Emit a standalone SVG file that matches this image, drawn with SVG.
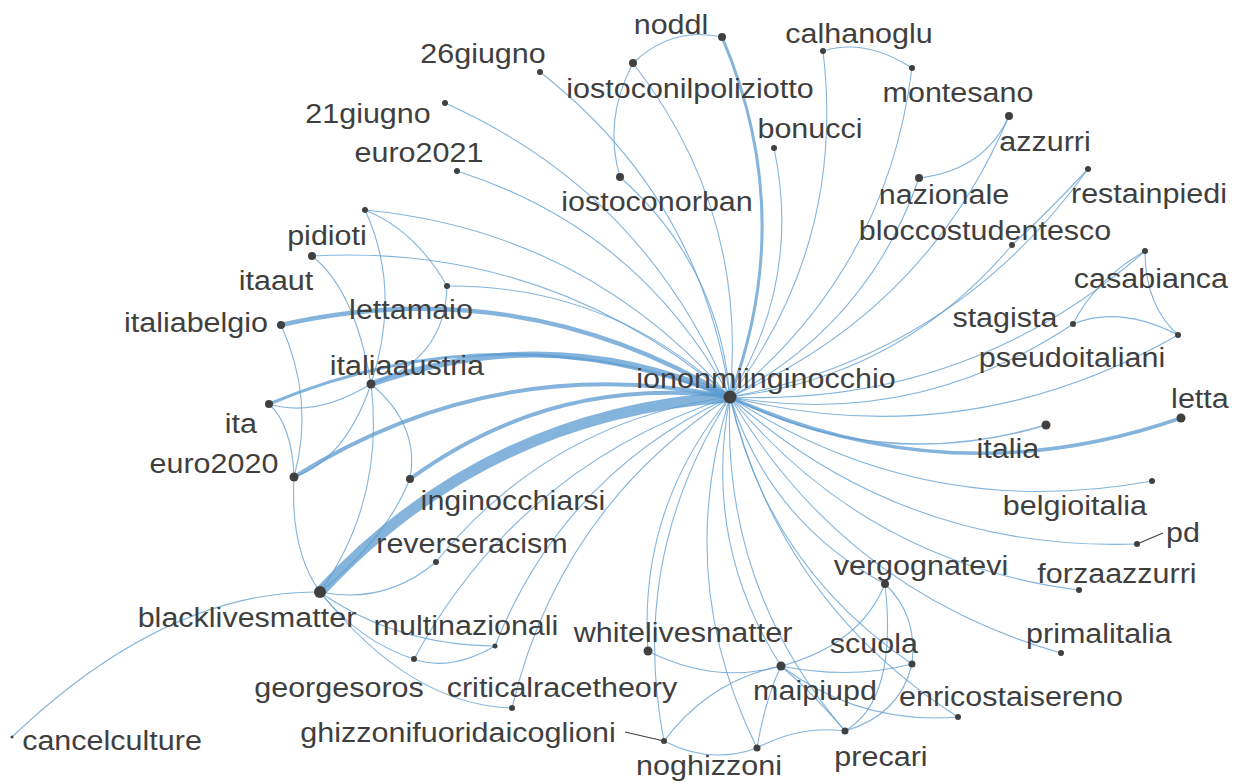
<svg xmlns="http://www.w3.org/2000/svg" width="1242" height="784" viewBox="0 0 1242 784">
<style>
.e{fill:none;stroke:#5b9bd0;stroke-opacity:0.75;stroke-width:1.1}
.dot{fill:#404040}
.ptr{stroke:#404040;stroke-width:1.2;fill:none}
.lbl{font-family:"Liberation Sans",Arial,sans-serif;font-size:27px;fill:#3f3f3f;text-anchor:middle;transform-box:fill-box;transform-origin:center;transform:scaleX(1.13)}
</style>
<rect width="1242" height="784" fill="#ffffff"/>
<g id="edges">
<path class="e" style="stroke-width:3.5" d="M730 397Q951 498 1181 418"/>
<path class="e" style="stroke-width:1.6" d="M730 397Q882 474 1046 425"/>
<path class="e" d="M730 397Q924 523 1152 481"/>
<path class="e" d="M730 397Q904 552 1137 544"/>
<path class="e" d="M730 397Q866 563 1079 590"/>
<path class="e" d="M730 397Q844 591 1061 653"/>
<path class="e" d="M730 397Q770 522 885 584"/>
<path class="e" d="M730 397Q768 567 912 664"/>
<path class="e" d="M730 397Q780 603 958 717"/>
<path class="e" d="M730 397Q721 587 845 731"/>
<path class="e" d="M730 397Q702 542 781 666"/>
<path class="e" d="M730 397Q673 578 757 748"/>
<path class="e" d="M730 397Q628 556 664 741"/>
<path class="e" d="M730 397Q638 508 648 651"/>
<path class="e" d="M730 397Q559 509 512 708"/>
<path class="e" d="M730 397Q563 475 495 646"/>
<path class="e" d="M730 397Q520 465 414 659"/>
<path class="e" d="M730 397Q550 421 436 562"/>
<path class="e" style="stroke-width:4" d="M730 397Q554 374 410 479"/>
<path class="e" style="stroke-width:11" d="M730 397Q486 413 320 592"/>
<path class="e" style="stroke-width:4" d="M730 397Q496 350 294 477"/>
<path class="e" style="stroke-width:3" d="M730 397Q498 308 269 404"/>
<path class="e" style="stroke-width:6" d="M730 397Q553 319 371 384"/>
<path class="e" style="stroke-width:4.5" d="M730 397Q520 271 281 325"/>
<path class="e" d="M730 397Q549 243 312 256"/>
<path class="e" d="M730 397Q585 231 365 210"/>
<path class="e" d="M730 397Q611 285 447 286"/>
<path class="e" d="M730 397Q639 229 457 171"/>
<path class="e" d="M730 397Q646 193 445 103"/>
<path class="e" d="M730 397Q700 197 540 72"/>
<path class="e" d="M730 397Q719 265 620 177"/>
<path class="e" d="M730 397Q748 211 633 63"/>
<path class="e" style="stroke-width:3" d="M730 397Q798 215 722 37"/>
<path class="e" d="M730 397Q802 281 774 148"/>
<path class="e" d="M730 397Q846 243 823 51"/>
<path class="e" d="M730 397Q887 269 912 68"/>
<path class="e" d="M730 397Q868 325 919 178"/>
<path class="e" d="M730 397Q926 312 1009 116"/>
<path class="e" d="M730 397Q955 355 1088 169"/>
<path class="e" d="M730 397Q901 377 1012 245"/>
<path class="e" d="M730 397Q967 407 1145 251"/>
<path class="e" d="M730 397Q916 429 1073 324"/>
<path class="e" d="M730 397Q966 456 1178 335"/>
<path class="e" d="M269 404Q315 418 371 384"/>
<path class="e" d="M269 404Q292 425 294 477"/>
<path class="e" d="M281 325Q315 400 294 477"/>
<path class="e" d="M294 477Q290 550 320 592"/>
<path class="e" d="M294 477Q345 460 371 384"/>
<path class="e" d="M371 384Q385 500 320 592"/>
<path class="e" d="M371 384Q420 425 410 479"/>
<path class="e" d="M410 479Q385 540 320 592"/>
<path class="e" d="M371 384Q402 290 365 210"/>
<path class="e" d="M371 384Q355 290 312 256"/>
<path class="e" d="M371 384Q445 360 447 286"/>
<path class="e" d="M365 210Q415 230 447 286"/>
<path class="e" d="M320 592Q166 590 12 737"/>
<path class="e" d="M320 592Q385 605 436 562"/>
<path class="e" d="M320 592Q395 645 495 646"/>
<path class="e" d="M320 592Q360 642 414 659"/>
<path class="e" d="M320 592Q410 705 512 708"/>
<path class="e" d="M414 659Q450 672 495 646"/>
<path class="e" d="M648 651Q715 685 781 666"/>
<path class="e" d="M664 741Q710 680 781 666"/>
<path class="e" d="M664 741Q710 765 757 748"/>
<path class="e" d="M757 748Q765 700 781 666"/>
<path class="e" d="M757 748Q800 725 845 731"/>
<path class="e" d="M781 666Q815 695 845 731"/>
<path class="e" d="M781 666Q850 680 912 664"/>
<path class="e" d="M781 666Q860 645 885 584"/>
<path class="e" d="M781 666Q860 725 958 717"/>
<path class="e" d="M885 584Q918 615 912 664"/>
<path class="e" d="M885 584Q898 700 845 731"/>
<path class="e" d="M912 664Q900 715 845 731"/>
<path class="e" d="M722 37Q672 26 633 63"/>
<path class="e" d="M633 63Q603 120 620 177"/>
<path class="e" d="M823 51Q865 38 912 68"/>
<path class="e" d="M919 178Q985 170 1009 116"/>
<path class="e" d="M1088 169Q1045 215 1012 245"/>
<path class="e" d="M1145 251Q1095 280 1073 324"/>
<path class="e" d="M1145 251Q1145 305 1178 335"/>
<path class="e" d="M1073 324Q1120 305 1178 335"/>
</g>
<g id="nodes">
<g id="n-iononmiinginocchio"><circle class="dot" cx="730" cy="397" r="6.5"/><text class="lbl" x="766" y="388">iononmiinginocchio</text></g>
<g id="n-letta"><circle class="dot" cx="1181" cy="418" r="4.5"/><text class="lbl" x="1200" y="408">letta</text></g>
<g id="n-italia"><circle class="dot" cx="1046" cy="425" r="4.5"/><text class="lbl" x="1008" y="458">italia</text></g>
<g id="n-belgioitalia"><circle class="dot" cx="1152" cy="481" r="3"/><text class="lbl" x="1075" y="515">belgioitalia</text></g>
<g id="n-pd"><circle class="dot" cx="1137" cy="544" r="3"/><path class="ptr" d="M1137 544L1163 533"/><text class="lbl" x="1183" y="542">pd</text></g>
<g id="n-forzaazzurri"><circle class="dot" cx="1079" cy="590" r="3"/><text class="lbl" x="1117" y="583">forzaazzurri</text></g>
<g id="n-primalitalia"><circle class="dot" cx="1061" cy="653" r="3"/><text class="lbl" x="1099" y="643">primalitalia</text></g>
<g id="n-vergognatevi"><circle class="dot" cx="885" cy="584" r="4"/><text class="lbl" x="921" y="575">vergognatevi</text></g>
<g id="n-scuola"><circle class="dot" cx="912" cy="664" r="3.5"/><text class="lbl" x="874" y="653">scuola</text></g>
<g id="n-enricostaisereno"><circle class="dot" cx="958" cy="717" r="3"/><text class="lbl" x="1011" y="706">enricostaisereno</text></g>
<g id="n-precari"><circle class="dot" cx="845" cy="731" r="3.5"/><text class="lbl" x="881" y="766">precari</text></g>
<g id="n-maipiupd"><circle class="dot" cx="781" cy="666" r="4.5"/><text class="lbl" x="815" y="700">maipiupd</text></g>
<g id="n-noghizzoni"><circle class="dot" cx="757" cy="748" r="3.5"/><text class="lbl" x="709" y="775">noghizzoni</text></g>
<g id="n-ghizzonifuoridaicoglioni"><circle class="dot" cx="664" cy="741" r="3"/><path class="ptr" d="M664 741L625 732"/><text class="lbl" x="458" y="742">ghizzonifuoridaicoglioni</text></g>
<g id="n-whitelivesmatter"><circle class="dot" cx="648" cy="651" r="4.5"/><text class="lbl" x="683" y="642">whitelivesmatter</text></g>
<g id="n-criticalracetheory"><circle class="dot" cx="512" cy="708" r="3"/><text class="lbl" x="562" y="697">criticalracetheory</text></g>
<g id="n-multinazionali"><circle class="dot" cx="495" cy="646" r="2.5"/><text class="lbl" x="466" y="635">multinazionali</text></g>
<g id="n-georgesoros"><circle class="dot" cx="414" cy="659" r="3"/><text class="lbl" x="339" y="697">georgesoros</text></g>
<g id="n-reverseracism"><circle class="dot" cx="436" cy="562" r="3"/><text class="lbl" x="472" y="553">reverseracism</text></g>
<g id="n-inginocchiarsi"><circle class="dot" cx="410" cy="479" r="4"/><text class="lbl" x="513" y="510">inginocchiarsi</text></g>
<g id="n-blacklivesmatter"><circle class="dot" cx="320" cy="592" r="6"/><text class="lbl" x="247" y="627">blacklivesmatter</text></g>
<g id="n-cancelculture"><circle class="dot" cx="12" cy="737" r="1.5"/><text class="lbl" x="112" y="750">cancelculture</text></g>
<g id="n-euro2020"><circle class="dot" cx="294" cy="477" r="4.5"/><text class="lbl" x="214" y="473">euro2020</text></g>
<g id="n-ita"><circle class="dot" cx="269" cy="404" r="4"/><text class="lbl" x="241" y="433">ita</text></g>
<g id="n-italiaaustria"><circle class="dot" cx="371" cy="384" r="4.5"/><text class="lbl" x="407" y="375">italiaaustria</text></g>
<g id="n-italiabelgio"><circle class="dot" cx="281" cy="325" r="4"/><text class="lbl" x="196" y="332">italiabelgio</text></g>
<g id="n-itaaut"><circle class="dot" cx="365" cy="210" r="3"/><text class="lbl" x="276" y="290">itaaut</text></g>
<g id="n-pidioti"><circle class="dot" cx="312" cy="256" r="4"/><text class="lbl" x="327" y="245">pidioti</text></g>
<g id="n-lettamaio"><circle class="dot" cx="447" cy="286" r="3"/><text class="lbl" x="411" y="319">lettamaio</text></g>
<g id="n-euro2021"><circle class="dot" cx="457" cy="171" r="3"/><text class="lbl" x="419" y="162">euro2021</text></g>
<g id="n-21giugno"><circle class="dot" cx="445" cy="103" r="3"/><text class="lbl" x="368" y="123">21giugno</text></g>
<g id="n-26giugno"><circle class="dot" cx="540" cy="72" r="3"/><text class="lbl" x="483" y="63">26giugno</text></g>
<g id="n-noddl"><circle class="dot" cx="722" cy="37" r="4"/><text class="lbl" x="671" y="34">noddl</text></g>
<g id="n-iostoconilpoliziotto"><circle class="dot" cx="633" cy="63" r="4"/><text class="lbl" x="690" y="98">iostoconilpoliziotto</text></g>
<g id="n-iostoconorban"><circle class="dot" cx="620" cy="177" r="4"/><text class="lbl" x="657" y="211">iostoconorban</text></g>
<g id="n-bonucci"><circle class="dot" cx="774" cy="148" r="3"/><text class="lbl" x="810" y="138">bonucci</text></g>
<g id="n-calhanoglu"><circle class="dot" cx="823" cy="51" r="3"/><text class="lbl" x="859" y="43">calhanoglu</text></g>
<g id="n-montesano"><circle class="dot" cx="912" cy="68" r="3"/><text class="lbl" x="958" y="102">montesano</text></g>
<g id="n-azzurri"><circle class="dot" cx="1009" cy="116" r="4"/><text class="lbl" x="1045" y="151">azzurri</text></g>
<g id="n-nazionale"><circle class="dot" cx="919" cy="178" r="4"/><text class="lbl" x="944" y="204">nazionale</text></g>
<g id="n-restainpiedi"><circle class="dot" cx="1088" cy="169" r="3"/><text class="lbl" x="1149" y="203">restainpiedi</text></g>
<g id="n-bloccostudentesco"><circle class="dot" cx="1012" cy="245" r="3"/><text class="lbl" x="985" y="240">bloccostudentesco</text></g>
<g id="n-casabianca"><circle class="dot" cx="1145" cy="251" r="3"/><text class="lbl" x="1151" y="288">casabianca</text></g>
<g id="n-stagista"><circle class="dot" cx="1073" cy="324" r="3"/><text class="lbl" x="1005" y="327">stagista</text></g>
<g id="n-pseudoitaliani"><circle class="dot" cx="1178" cy="335" r="3"/><text class="lbl" x="1072" y="367">pseudoitaliani</text></g>
</g>
</svg>
